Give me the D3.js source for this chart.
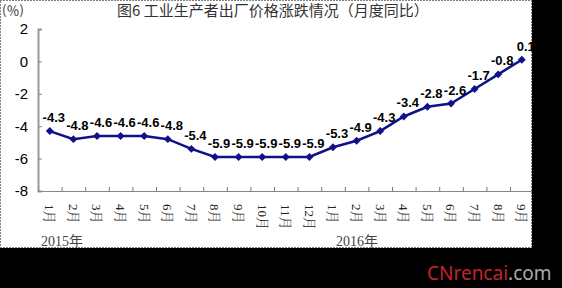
<!doctype html>
<html>
<head>
<meta charset="utf-8">
<script src="https://cdn.jsdelivr.net/npm/d3@7"></script>
<style>
  body { margin: 0; background: #000; }
  svg { display: block; }
</style>
</head>
<body>
<svg id="chart" width="562" height="288"></svg>
<script>
// data
var months = ['1月','2月','3月','4月','5月','6月','7月','8月','9月','10月','11月','12月',
              '1月','2月','3月','4月','5月','6月','7月','8月','9月'];
var ppi = [-4.3,-4.8,-4.6,-4.6,-4.6,-4.8,-5.4,-5.9,-5.9,-5.9,-5.9,-5.9,
           -5.3,-4.9,-4.3,-3.4,-2.8,-2.6,-1.7,-0.8,0.1];
var yTicks = [2,0,-2,-4,-6,-8];
var years = [{label:'2015年', at:0}, {label:'2016年', at:12}];

var svg = d3.select('#chart');
// plain hyphen minus, like the original
var fmt = function (f) { var g = d3.format(f); return function (v) { return g(v).replace('−', '-'); }; };

// white paper area
svg.append('rect').attr('x',0).attr('y',0).attr('width',532).attr('height',248).attr('fill','#fff');

var x = d3.scaleBand().domain(d3.range(months.length)).range([38, 38 + 21 * 23.6]).padding(0);
var xEdge = d3.scaleLinear().domain([0, months.length]).range(x.range());
var y = d3.scaleLinear().domain([-8, 2]).range([191, 29]);
var cx = function (i) { return x(i) + x.bandwidth() / 2; };

// y axis
var yAxis = svg.append('g').attr('transform','translate(38,0)')
  .call(d3.axisLeft(y).tickValues(yTicks).tickSize(-4).tickPadding(10).tickFormat(fmt('d')));
yAxis.select('.domain').attr('stroke','#999').attr('stroke-width',2);
yAxis.selectAll('.tick line').attr('stroke','#888');
yAxis.selectAll('text').attr('font-family','Liberation Sans, Arial, sans-serif')
  .attr('font-size',15).attr('fill','#000');

// x axis: baseline with tick marks between categories
var xAxis = svg.append('g').attr('transform','translate(0,' + y(-8) + ')')
  .call(d3.axisBottom(xEdge).tickValues(d3.range(1, months.length + 1)).tickSize(-4).tickFormat(''));
xAxis.select('.domain').attr('stroke','#888').attr('stroke-width',1);
xAxis.selectAll('.tick line').attr('stroke','#777');

// category labels, rotated
svg.append('g').selectAll('text').data(months).enter().append('text')
  .attr('transform', function (d, i) { return 'translate(' + cx(i) + ',204) rotate(90)'; })
  .attr('dy','0.35em')
  .attr('font-family','Liberation Serif, "Noto Serif CJK SC", "Noto Sans CJK SC", serif')
  .attr('font-size',13).attr('fill','#222')
  .text(function (d) { return d; });

// year labels
svg.append('g').selectAll('text').data(years).enter().append('text')
  .attr('x', function (d) { return d.at === 0 ? 41 : cx(d.at) + 3; })
  .attr('y', 246)
  .attr('font-family','Liberation Serif, "Noto Sans CJK SC", serif')
  .attr('font-size',14).attr('fill','#444')
  .text(function (d) { return d.label; });

// line
var line = d3.line().x(function (d, i) { return cx(i); }).y(function (d) { return y(d); });
svg.append('path').datum(ppi).attr('d', line)
  .attr('fill','none').attr('stroke','#10108a').attr('stroke-width',2.5);

// diamond markers
svg.append('g').selectAll('path').data(ppi).enter().append('path')
  .attr('transform', function (d, i) { return 'translate(' + cx(i) + ',' + y(d) + ')'; })
  .attr('d', d3.symbol(d3.symbolDiamond2, 40))
  .attr('fill','#10108a');

// value labels
svg.append('g').selectAll('text').data(ppi).enter().append('text')
  .attr('x', function (d, i) { return cx(i) + 4; })
  .attr('y', function (d) { return y(d) - 9; })
  .attr('text-anchor','middle')
  .attr('font-family','Liberation Sans, Arial, sans-serif')
  .attr('font-size',13).attr('font-weight','bold').attr('fill','#000')
  .text(fmt('.1f'));

// title and unit
svg.append('text').attr('x',117).attr('y',16)
  .attr('font-family','"Noto Sans CJK SC", sans-serif').attr('font-size',15).attr('fill','#333')
  .text('图6 工业生产者出厂价格涨跌情况（月度同比）');
svg.append('text').attr('x',2).attr('y',15)
  .attr('font-family','"Noto Sans CJK SC", sans-serif').attr('font-size',13).attr('fill','#333')
  .text('(％)');

// black frame right and bottom
svg.append('rect').attr('x',532).attr('y',0).attr('width',30).attr('height',288).attr('fill','#000');
svg.append('rect').attr('x',0).attr('y',248).attr('width',562).attr('height',40).attr('fill','#000');

// dotted border around the paper
svg.append('rect').attr('x',0.5).attr('y',0.5).attr('width',531).attr('height',247)
  .attr('fill','none').attr('stroke','#000').attr('stroke-dasharray','1,2');

// watermark
var wm = svg.append('text').attr('x',427).attr('y',280)
  .attr('font-family','"Noto Sans", "DejaVu Sans", sans-serif').attr('font-size',19);
wm.append('tspan').attr('fill','#c4242c').text('CNrencai');
wm.append('tspan').attr('fill','#aaa').text('.com');
</script>
</body>
</html>
